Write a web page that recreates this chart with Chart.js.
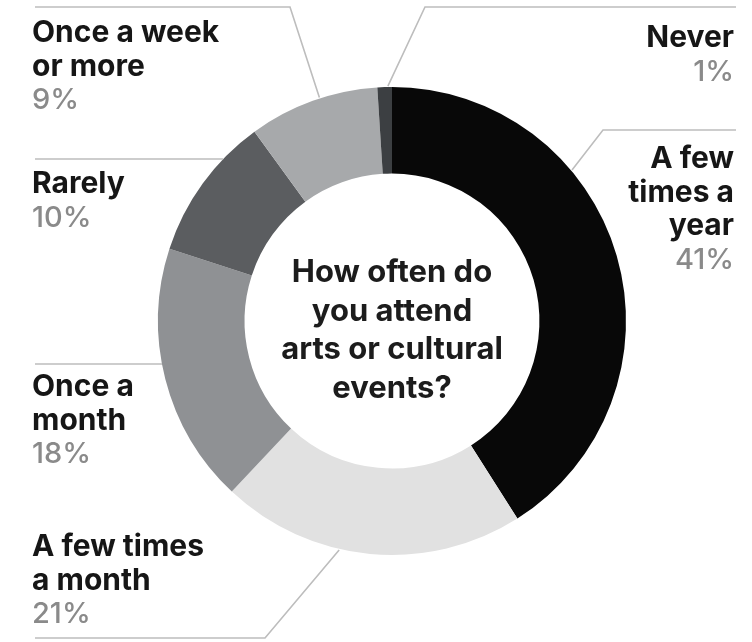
<!DOCTYPE html>
<html>
<head>
<meta charset="utf-8">
<script src="https://cdn.jsdelivr.net/npm/chart.js@4/dist/chart.umd.min.js"></script>
<style>
  html, body { margin: 0; padding: 0; background: #fff; }
  #wrap { width: 752px; height: 642px; position: relative; }
</style>
</head>
<body>
<div id="wrap"><canvas id="donut"></canvas></div>
<script>
// survey answers, clockwise from 12 o'clock
const categories = ['A few times a year', 'A few times a month', 'Once a month', 'Rarely', 'Once a week or more', 'Never'];
const shares = [41, 21, 18, 10, 9, 1];
const labelLines = [
  ['A few', 'times a', 'year'],
  ['A few times', 'a month'],
  ['Once a', 'month'],
  ['Rarely'],
  ['Once a week', 'or more'],
  ['Never']
];
const question = ['How often do', 'you attend', 'arts or cultural', 'events?'];

const sliceColors = ['#080808', '#e1e1e1', '#8f9194', '#5b5d60', '#a7a9ab', '#3c3f42'];

// where each label sits and how its leader line runs (same order as categories)
const labelLayout = [
  { align: 'right', x: 734, top: 168, lineY: 130, lineFrom: 736, elbowX: 603, angle: 50 },
  { align: 'left', x: 32, top: 556, lineY: 638, lineFrom: 35, elbowX: 265, angle: 193 },
  { align: 'left', x: 32, top: 396, lineY: 364, lineFrom: 35, elbowX: null },
  { align: 'left', x: 32, top: 193, lineY: 159, lineFrom: 35, elbowX: null },
  { align: 'left', x: 32, top: 42, lineY: 7, lineFrom: 35, elbowX: 290, angle: 342 },
  { align: 'right', x: 734, top: 47, lineY: 7, lineFrom: 736, elbowX: 425, angle: 359 }
];

const labelFont = '700 30px Inter, "Liberation Sans", sans-serif';
const pctFont = '500 29px Inter, "Liberation Sans", sans-serif';
const lineStep = 33.5;

const calloutPlugin = {
  id: 'callouts',
  afterDraw(chart) {
    const ctx = chart.ctx;
    const arc = chart.getDatasetMeta(0).data[0];
    const cx = arc.x, cy = arc.y, R = arc.outerRadius;

    ctx.save();
    // leader lines
    ctx.strokeStyle = '#bdbdbd';
    ctx.lineWidth = 1.6;
    labelLayout.forEach((l) => {
      ctx.beginPath();
      ctx.moveTo(l.lineFrom, l.lineY);
      if (l.elbowX === null) {
        const dy = l.lineY - cy;
        const x = cx - Math.sqrt(R * R - dy * dy);
        ctx.lineTo(x, l.lineY);
      } else {
        const a = l.angle * Math.PI / 180;
        ctx.lineTo(l.elbowX, l.lineY);
        ctx.lineTo(cx + Math.sin(a) * (R + 1), cy - Math.cos(a) * (R + 1));
      }
      ctx.stroke();
    });

    // label text
    ctx.textBaseline = 'alphabetic';
    labelLayout.forEach((l, i) => {
      ctx.textAlign = l.align;
      let y = l.top;
      ctx.font = labelFont;
      ctx.fillStyle = '#161616';
      labelLines[i].forEach((t) => { ctx.fillText(t, l.x, y); y += lineStep; });
      ctx.font = pctFont;
      ctx.fillStyle = '#8a8a8a';
      ctx.fillText(shares[i] + '%', l.x, y);
    });

    // question in the hole
    ctx.font = '700 31px Inter, "Liberation Sans", sans-serif';
    ctx.fillStyle = '#1c1c1c';
    ctx.textAlign = 'center';
    question.forEach((t, k) => ctx.fillText(t, cx, 282 + k * 38.5));
    ctx.restore();
  }
};

new Chart(document.getElementById('donut').getContext('2d'), {
  type: 'doughnut',
  data: {
    labels: categories,
    datasets: [{
      data: shares,
      backgroundColor: sliceColors,
      borderWidth: 0,
      hoverOffset: 0
    }]
  },
  options: {
    responsive: true,
    maintainAspectRatio: false,
    animation: false,
    cutout: '63%',
    layout: { padding: { left: 158, right: 126, top: 87, bottom: 87 } },
    plugins: {
      legend: { display: false },
      tooltip: { enabled: false }
    }
  },
  plugins: [calloutPlugin]
});
</script>
</body>
</html>
